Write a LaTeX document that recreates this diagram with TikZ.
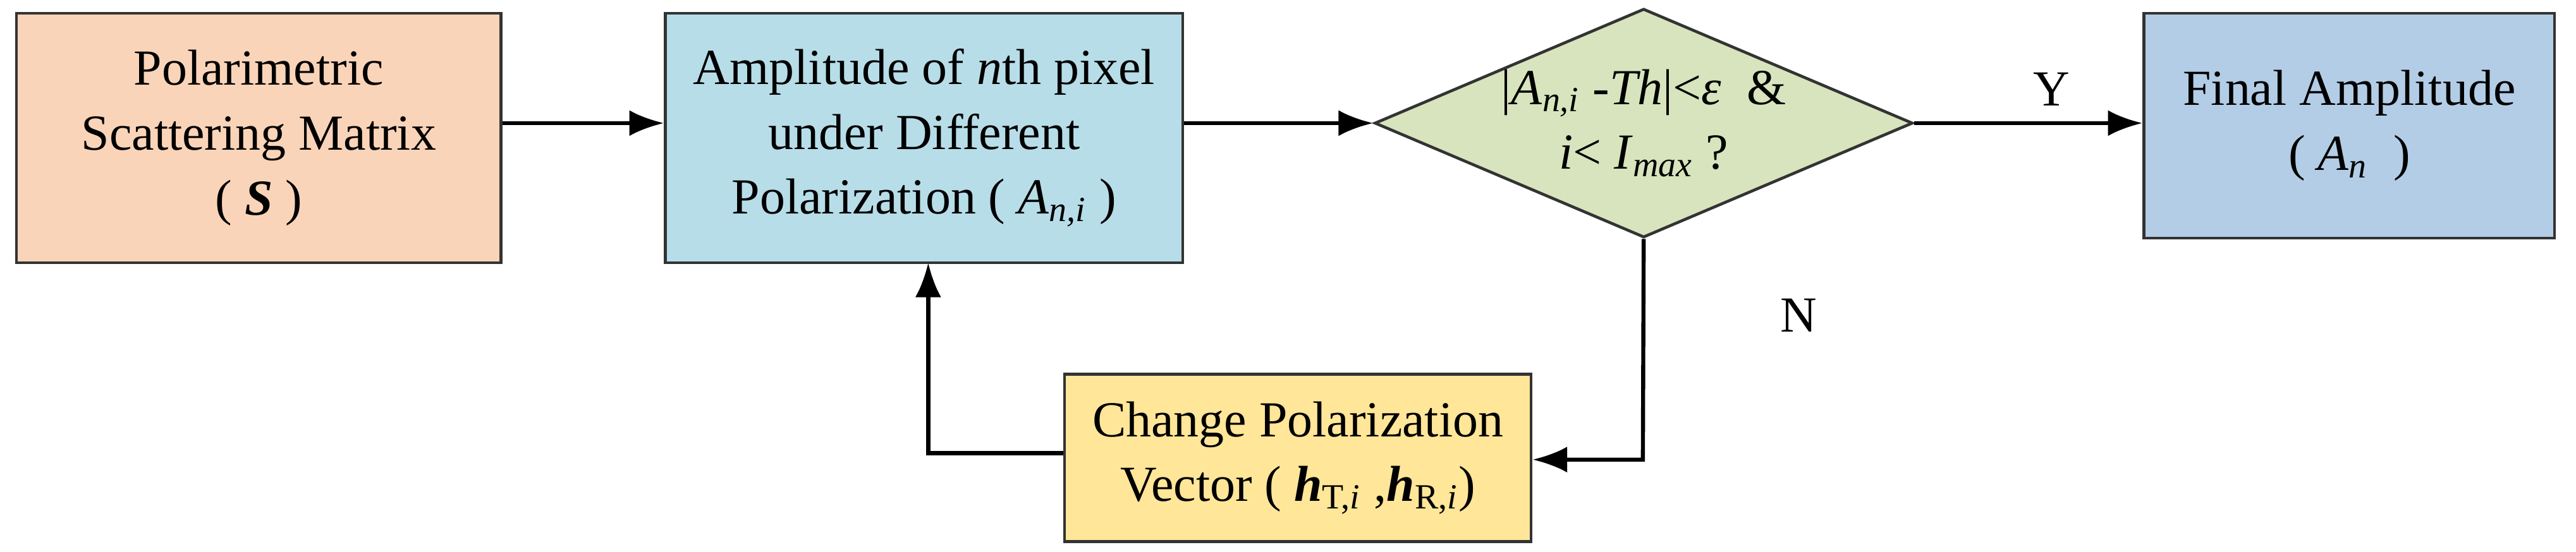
\documentclass[tikz,border=0pt]{standalone}
\usepackage{fontspec}
\setmainfont{Liberation Serif}
\usetikzlibrary{shapes.geometric,arrows.meta}
\definecolor{cOr}{HTML}{FAD4B9}
\definecolor{cBl}{HTML}{B7DDE8}
\definecolor{cGr}{HTML}{D7E4BD}
\definecolor{cB2}{HTML}{B4CDE6}
\definecolor{cYe}{HTML}{FFE699}
\newcommand{\si}[2]{\textit{#1}\textsubscript{#2}}
\begin{document}
\begin{tikzpicture}[x=0.02cm,y=-0.02cm,
  box/.style={draw=black!80,line width=1pt,align=center,inner sep=0pt,font=\fontsize{17.5}{22.5}\selectfont},
  arr/.style={-{Latex[length=12pt,width=9pt]},line width=1.4pt}]
\useasboundingbox (0,0) rectangle (1568,336);
\node[box,fill=cOr,minimum width=5.9cm,minimum height=3.04cm] (s) at (157.5,84) {Polarimetric\\Scattering Matrix\\( \textbf{\textit{S}} )};
\node[box,fill=cBl,minimum width=6.3cm,minimum height=3.04cm] (a) at (562.5,84) {Amplitude of \textit{n}th pixel\\under Different\\Polarization ( \si{A}{\textit{n,i}} )};
\node[box,fill=cGr,diamond,aspect=2.35,minimum width=6.3cm,minimum height=2.68cm] (d) at (1000.5,75) {|\si{A}{\textit{n,i}} -\textit{Th}|<\textit{ε}\ \ \&\\\textit{i}< \si{I}{\textit{max}} ?};
\node[box,fill=cB2,minimum width=5.0cm,minimum height=2.74cm] (f) at (1430,76.5) {Final Amplitude\\( \si{A}{\textit{n}}\ \ )};
\node[box,fill=cYe,minimum width=5.68cm,minimum height=2.04cm] (c) at (790,279) {Change Polarization\\Vector ( \textbf{\textit{h}}\textsubscript{T,\textit{i}} ,\textbf{\textit{h}}\textsubscript{R,\textit{i}})};
\draw[arr] (s.east|-0,75) -- (a.west|-0,75);
\draw[arr] (a.east|-0,75) -- (d.west);
\draw[arr] (d.east) -- node[above,font=\fontsize{17.5}{20}\selectfont,pos=0.6,yshift=2pt]{Y} (f.west|-0,75);
\draw[arr] (d.south) -- (1000,280) -- (c.east|-0,280);
\node[font=\fontsize{17.5}{20}\selectfont] (n) at (1095,192) {N};
\draw[arr] (c.west|-0,276) -- (565,276) -- (565,160);
\end{tikzpicture}
\end{document}
